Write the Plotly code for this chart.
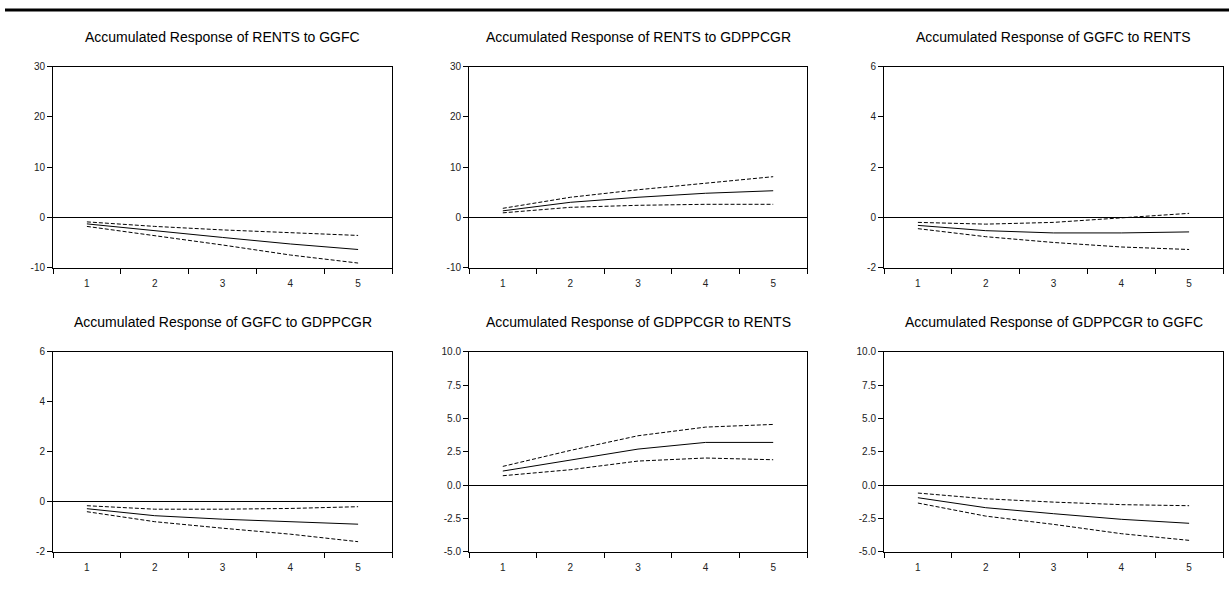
import plotly.graph_objects as go

periods = [1, 2, 3, 4, 5]

titles = [
    "Accumulated Response of RENTS to GGFC",
    "Accumulated Response of RENTS to GDPPCGR",
    "Accumulated Response of GGFC to RENTS",
    "Accumulated Response of GGFC to GDPPCGR",
    "Accumulated Response of GDPPCGR to RENTS",
    "Accumulated Response of GDPPCGR to GGFC",
]

# response, upper band (+2 S.E.), lower band (-2 S.E.)
rents_ggfc = [-1.3, -2.7, -4.0, -5.3, -6.4]
rents_ggfc_up = [-0.9, -1.8, -2.5, -3.1, -3.6]
rents_ggfc_lo = [-1.8, -3.6, -5.5, -7.5, -9.1]

rents_gdp = [1.3, 3.0, 4.0, 4.8, 5.3]
rents_gdp_up = [1.8, 4.0, 5.5, 6.8, 8.1]
rents_gdp_lo = [0.9, 2.0, 2.4, 2.6, 2.6]

ggfc_rents = [-0.32, -0.53, -0.62, -0.62, -0.58]
ggfc_rents_up = [-0.2, -0.27, -0.2, -0.03, 0.16]
ggfc_rents_lo = [-0.45, -0.77, -1.0, -1.18, -1.28]

ggfc_gdp = [-0.28, -0.56, -0.7, -0.8, -0.9]
ggfc_gdp_up = [-0.16, -0.3, -0.3, -0.27, -0.2]
ggfc_gdp_lo = [-0.4, -0.8, -1.06, -1.3, -1.6]

gdp_rents = [1.05, 1.85, 2.7, 3.2, 3.2]
gdp_rents_up = [1.4, 2.6, 3.7, 4.35, 4.55]
gdp_rents_lo = [0.7, 1.15, 1.8, 2.03, 1.9]

gdp_ggfc = [-0.95, -1.7, -2.15, -2.57, -2.87]
gdp_ggfc_up = [-0.6, -1.03, -1.28, -1.47, -1.55]
gdp_ggfc_lo = [-1.35, -2.33, -2.95, -3.65, -4.15]

panels = [
    (rents_ggfc, rents_ggfc_up, rents_ggfc_lo),
    (rents_gdp, rents_gdp_up, rents_gdp_lo),
    (ggfc_rents, ggfc_rents_up, ggfc_rents_lo),
    (ggfc_gdp, ggfc_gdp_up, ggfc_gdp_lo),
    (gdp_rents, gdp_rents_up, gdp_rents_lo),
    (gdp_ggfc, gdp_ggfc_up, gdp_ggfc_lo),
]

y_ticks = [
    [-10, 0, 10, 20, 30],
    [-10, 0, 10, 20, 30],
    [-2, 0, 2, 4, 6],
    [-2, 0, 2, 4, 6],
    [-5.0, -2.5, 0.0, 2.5, 5.0, 7.5, 10.0],
    [-5.0, -2.5, 0.0, 2.5, 5.0, 7.5, 10.0],
]
y_ticktext = [
    ["-10", "0", "10", "20", "30"],
    ["-10", "0", "10", "20", "30"],
    ["-2", "0", "2", "4", "6"],
    ["-2", "0", "2", "4", "6"],
    ["-5.0", "-2.5", "0.0", "2.5", "5.0", "7.5", "10.0"],
    ["-5.0", "-2.5", "0.0", "2.5", "5.0", "7.5", "10.0"],
]
x_labels = ["1", "2", "3", "4", "5"]

W, H = 1229, 590
col_px = [(53, 392), (469, 807), (884, 1223)]
row_px = [(62, 267), (353, 557)]
title_y_px = [32, 323]

FONT = "Liberation Sans, Arial, sans-serif"

fig = go.Figure()
annotations = []
for i, (resp, up, lo) in enumerate(panels):
    r, c = divmod(i, 3)
    n = i + 1
    xa = "x" if n == 1 else f"x{n}"
    ya = "y" if n == 1 else f"y{n}"
    for series, dash in ((up, "4px,2px"), (lo, "4px,2px"), (resp, "solid")):
        fig.add_trace(go.Scatter(
            x=periods, y=series, mode="lines", xaxis=xa, yaxis=ya,
            line=dict(color="black", width=1, dash=dash),
            showlegend=False, hoverinfo="skip",
        ))
    x0, x1 = col_px[c]
    t0, b0 = row_px[r]
    xkey = "xaxis" if n == 1 else f"xaxis{n}"
    ykey = "yaxis" if n == 1 else f"yaxis{n}"
    yt = y_ticks[i]
    fig.layout[xkey] = dict(
        domain=[x0 / W, x1 / W], anchor=ya, range=[0.5, 5.5],
        tickmode="array", tickvals=periods, ticktext=x_labels,
        ticks="outside", ticklen=6, tickcolor="rgba(0,0,0,0)",
        minor=dict(tickmode="linear", tick0=0.5, dtick=1, ticks="outside",
                   ticklen=5, tickcolor="black", tickwidth=1, showgrid=False),
        showline=True, mirror=True, linecolor="black", linewidth=1,
        showgrid=False, zeroline=False, fixedrange=True,
        tickfont=dict(family=FONT, size=10, color="#222"),
    )
    fig.layout[ykey] = dict(
        domain=[1 - b0 / H, 1 - t0 / H], anchor=xa, range=[yt[0], yt[-1]],
        tickmode="array", tickvals=yt, ticktext=y_ticktext[i],
        ticks="outside", ticklen=5, tickcolor="black", tickwidth=1,
        showline=True, mirror=True, linecolor="black", linewidth=1,
        showgrid=False, zeroline=True, zerolinecolor="black", zerolinewidth=1,
        fixedrange=True,
        tickfont=dict(family=FONT, size=10, color="#222"),
    )
    annotations.append(dict(
        text=titles[i], x=(x0 + x1) / 2 / W, y=1 - title_y_px[r] / H,
        xref="paper", yref="paper", xanchor="center", yanchor="middle",
        showarrow=False, font=dict(family=FONT, size=14, color="black"),
    ))

fig.update_layout(
    width=W, height=H, margin=dict(l=0, r=0, t=0, b=0),
    paper_bgcolor="white", plot_bgcolor="white",
    annotations=annotations,
    shapes=[dict(type="line", xref="paper", yref="paper",
                 x0=5 / W, x1=1, y0=1 - 4 / H, y1=1 - 4 / H,
                 line=dict(color="black", width=3))],
)

fig.write_html("out.html")
